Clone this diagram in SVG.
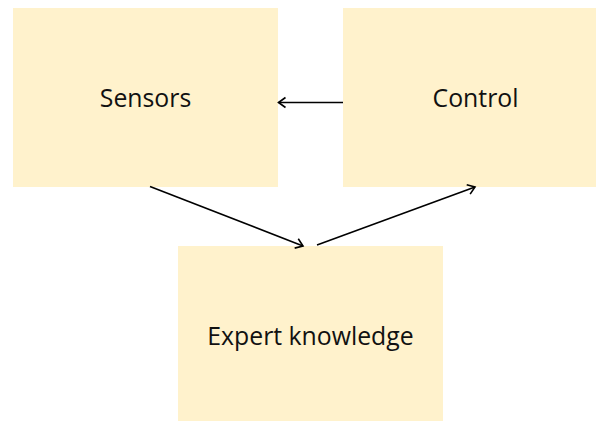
<svg xmlns="http://www.w3.org/2000/svg" width="596" height="421" viewBox="0 0 596 421">
<style>
.box{fill:#fff2cc;}
.lbl{font-family:"Open Sans","Noto Sans",sans-serif;font-size:24.8px;fill:#111;text-anchor:middle;}
.edge{stroke:#000;stroke-width:1.6;fill:none;}
</style>
<defs>
<marker id="arr" markerUnits="userSpaceOnUse" markerWidth="14" markerHeight="14" refX="10" refY="7" orient="auto">
<path d="M3,2 L10,7 L3,12" fill="none" stroke="#000" stroke-width="1.6"/>
</marker>
</defs>
<g id="sensors"><rect class="box" x="13" y="8" width="265" height="179"/><text class="lbl" x="145.5" y="107">Sensors</text></g>
<g id="control"><rect class="box" x="343" y="8" width="265" height="179"/><text class="lbl" x="475.5" y="107">Control</text></g>
<g id="expert"><rect class="box" x="178" y="246" width="265" height="179"/><text class="lbl" x="310.5" y="345">Expert knowledge</text></g>
<g id="connectors">
<line class="edge" x1="343" y1="102.5" x2="278.5" y2="102.5" marker-end="url(#arr)"/>
<line class="edge" x1="150" y1="186.5" x2="303" y2="246" marker-end="url(#arr)"/>
<line class="edge" x1="317" y1="245" x2="475" y2="187" marker-end="url(#arr)"/>
</g>
</svg>
